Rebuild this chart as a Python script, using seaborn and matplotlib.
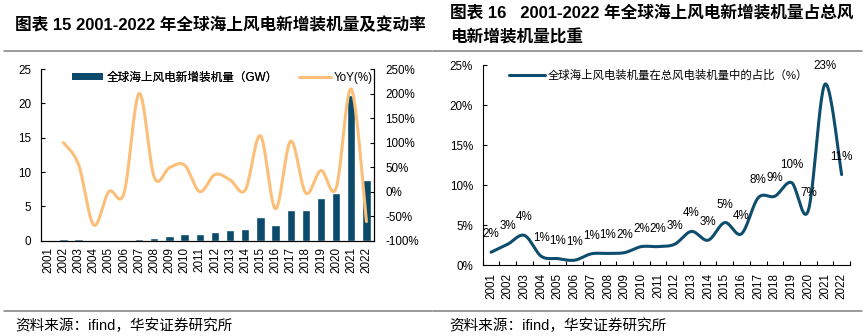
import numpy as np
import pandas as pd
import matplotlib
matplotlib.use('Agg')
import matplotlib.pyplot as plt
import seaborn as sns
from matplotlib.patches import Patch
from matplotlib.lines import Line2D
from matplotlib.ticker import FuncFormatter

# ---------------- data ----------------
years = ['2001', '2002', '2003', '2004', '2005', '2006', '2007', '2008', '2009', '2010', '2011',
         '2012', '2013', '2014', '2015', '2016', '2017', '2018', '2019', '2020', '2021', '2022']
new_gw = [0.1, 0.2, 0.3, 0.1, 0.1, 0.1, 0.3, 0.4, 0.65, 0.95, 0.95,
          1.25, 1.55, 1.7, 3.45, 2.3, 4.5, 4.4, 6.25, 6.9, 21.2, 8.8]
yoy_pct = [np.nan, 100, 55, -68, 0, -3, 200, 29, 49, 54, 0,
           35, 24, 3, 114, -35, 103, -3, 43, 7, 209, -61]
share_pct = [1.6, 2.6, 3.7, 1.1, 0.8, 0.6, 1.4, 1.45, 1.55, 2.3, 2.3,
             2.6, 4.2, 3.1, 5.3, 3.9, 8.4, 8.6, 10.3, 6.8, 22.6, 11.3]

title_left = '图表 15 2001-2022 年全球海上风电新增装机量及变动率'
title_right_1 = '图表 16   2001-2022 年全球海上风电新增装机量占总风'
title_right_2 = '电新增装机量比重'
legend_bar = '全球海上风电新增装机量（GW）'
legend_yoy = 'YoY(%)'
legend_share = '全球海上风电装机量在总风电装机量中的占比（%）'
source = '资料来源：ifind，华安证券研究所'

BAR = '#0B4A6B'
ORANGE = '#FBBF79'
LINE = '#0E4D6E'
GREY = '#7F7F7F'

sns.set_theme(style='white')
plt.rcParams['font.family'] = ['Liberation Sans', 'Noto Sans CJK SC']
plt.rcParams['axes.unicode_minus'] = False
plt.rcParams['text.color'] = 'black'
plt.rcParams['xtick.color'] = 'black'
plt.rcParams['ytick.color'] = 'black'
plt.rcParams['xtick.labelcolor'] = 'black'
plt.rcParams['ytick.labelcolor'] = 'black'

W, H = 865, 336


def fx(px):
    return px / W


def fy(py):
    return 1 - py / H


def smooth(xs, ys, n=24):
    """Excel-style smoothed line (Catmull-Rom Bezier) through the data points."""
    P = np.array([(x, y) for x, y in zip(xs, ys) if not np.isnan(y)], float)
    out = []
    for i in range(len(P) - 1):
        p0 = P[i - 1] if i > 0 else P[i]
        p1, p2 = P[i], P[i + 1]
        p3 = P[i + 2] if i + 2 < len(P) else P[i + 1]
        c1 = p1 + (p2 - p0) / 6
        c2 = p2 - (p3 - p1) / 6
        t = np.linspace(0, 1, n, endpoint=(i == len(P) - 2))[:, None]
        out.append((1 - t) ** 3 * p1 + 3 * (1 - t) ** 2 * t * c1 + 3 * (1 - t) * t ** 2 * c2 + t ** 3 * p2)
    S = np.vstack(out)
    return pd.DataFrame({'x': S[:, 0], 'y': S[:, 1]})


def style_axis(ax, sides):
    for s in ['left', 'right', 'top', 'bottom']:
        ax.spines[s].set_visible(s in sides)
        ax.spines[s].set_color('black')
        ax.spines[s].set_linewidth(0.8)


TICK_FS = 8.4
fig = plt.figure(figsize=(W / 100, H / 100), dpi=100)

# ---------------- left chart ----------------
ax1 = fig.add_axes([fx(40.7), fy(240.7), fx(374 - 40.7), (240.7 - 69) / H])
df_bar = pd.DataFrame({'year': years, 'gw': new_gw})
sns.barplot(data=df_bar, x='year', y='gw', color=BAR, width=0.55, saturation=1, ax=ax1)
ax1.set_ylim(0, 25)
ax1.set_yticks([0, 5, 10, 15, 20, 25])
ax1.set_xlim(-0.5, 21.5)
ax1.set_xlabel('')
ax1.set_ylabel('')
ax1.set_xticks(range(len(years)))
ax1.set_xticklabels(years, rotation=90, fontsize=TICK_FS)
ax1.set_xticks(np.arange(-0.5, 22, 1), minor=True)
ax1.tick_params(axis='x', which='major', length=0, pad=4.5)
ax1.tick_params(axis='x', which='minor', length=3, direction='in', width=0.8, color='black')
ax1.tick_params(axis='y', which='major', length=3, direction='in', width=0.8, pad=7,
                labelsize=TICK_FS, left=True, color='black')
style_axis(ax1, ['left', 'right', 'bottom'])

ax2 = ax1.twinx()
sns.lineplot(data=smooth(range(len(years)), yoy_pct), x='x', y='y', sort=False, estimator=None,
             color=ORANGE, lw=2.2, ax=ax2)
ax2.set_ylim(-100, 250)
ax2.set_yticks([-100, -50, 0, 50, 100, 150, 200, 250])
ax2.yaxis.set_major_formatter(FuncFormatter(lambda v, p: f'{v:.0f}%'))
ax2.set_xlim(-0.5, 21.5)
ax2.set_ylabel('')
ax2.set_xlabel('')
ax2.tick_params(axis='y', which='major', length=3, direction='in', width=0.8, pad=8,
                labelsize=TICK_FS, right=True, color='black')
style_axis(ax2, ['left', 'right', 'bottom'])

leg1 = fig.legend(handles=[Patch(facecolor=BAR, edgecolor='none', label=legend_bar)],
                  loc='center left', bbox_to_anchor=(fx(66), fy(78)), frameon=False,
                  borderpad=0, handlelength=2.7, handleheight=0.55, handletextpad=0.25,
                  fontsize=8.4)
leg2 = fig.legend(handles=[Line2D([], [], color=ORANGE, lw=2.2, label=legend_yoy)],
                  loc='center left', bbox_to_anchor=(fx(293), fy(78)), frameon=False,
                  borderpad=0, handlelength=2.75, handletextpad=0.25, fontsize=8.4)
fig.add_artist(leg1)

# ---------------- right chart ----------------
ax3 = fig.add_axes([fx(482.7), fy(265), fx(850 - 482.7), 200 / H])
sns.lineplot(data=smooth(range(len(years)), share_pct), x='x', y='y', sort=False, estimator=None,
             color=LINE, lw=2.2, ax=ax3)
ax3.set_ylim(0, 25)
ax3.set_yticks([0, 5, 10, 15, 20, 25])
ax3.yaxis.set_major_formatter(FuncFormatter(lambda v, p: f'{v:.0f}%'))
ax3.set_xlim(-0.5, 21.5)
ax3.set_xlabel('')
ax3.set_ylabel('')
ax3.set_xticks(range(len(years)))
ax3.set_xticklabels(years, rotation=90, fontsize=TICK_FS)
ax3.set_xticks(np.arange(-0.5, 22, 1), minor=True)
ax3.tick_params(axis='x', which='major', length=0, pad=5.5)
ax3.tick_params(axis='x', which='minor', length=3, direction='in', width=0.8, color='black',
                bottom=True)
ax3.tick_params(axis='y', which='major', length=3, direction='in', width=0.8, pad=7,
                labelsize=TICK_FS, left=True, color='black')
style_axis(ax3, ['left', 'bottom'])
for i, v in enumerate(share_pct):
    ax3.annotate(f'{v:.0f}%', (i, v), xytext=(0, 13), textcoords='offset points',
                 ha='center', va='center', fontsize=8.4, color='black')

fig.legend(handles=[Line2D([], [], color=LINE, lw=2.2, label=legend_share)],
           loc='center left', bbox_to_anchor=(fx(503), fy(75)), frameon=False,
           borderpad=0, handlelength=3.2, handletextpad=0.25, fontsize=8.2)

# ---------------- titles, rules, source ----------------
fig.text(fx(15), fy(25), title_left, ha='left', va='center', fontsize=12, weight='bold')
fig.text(fx(450), fy(12.5), title_right_1, ha='left', va='center', fontsize=12, weight='bold')
fig.text(fx(450), fy(38), title_right_2, ha='left', va='center', fontsize=12, weight='bold')

for (x0, x1) in [(4, 432), (433, 862)]:
    fig.add_artist(Line2D([fx(x0), fx(x1)], [fy(50.5)] * 2, color=GREY, lw=1.1))
    fig.add_artist(Line2D([fx(x0), fx(x1)], [fy(310.7)] * 2, color=GREY, lw=1.1))

fig.text(fx(15), fy(326), source, ha='left', va='center', fontsize=10.5)
fig.text(fx(449), fy(326), source, ha='left', va='center', fontsize=10.5)

fig.savefig('out.png', dpi=100)
